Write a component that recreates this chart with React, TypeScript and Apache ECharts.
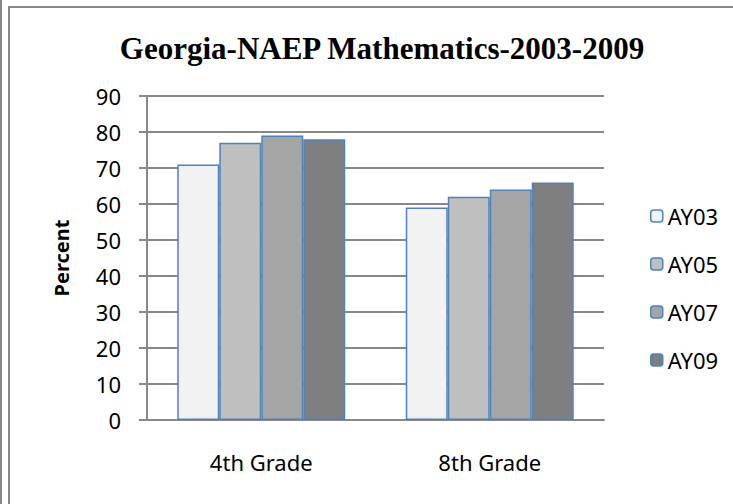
import React, { useEffect, useRef } from "react";
import * as echarts from "echarts";

const categories = ["4th Grade", "8th Grade"];
const seriesNames = ["AY03", "AY05", "AY07", "AY09"];
const ay03 = [71, 59];
const ay05 = [77, 62];
const ay07 = [79, 64];
const ay09 = [78, 66];
const seriesValues = [ay03, ay05, ay07, ay09];
const seriesColors = ["#F2F2F2", "#BFBFBF", "#A5A5A5", "#7F7F7F"];

export default function App() {
  const ref = useRef<HTMLDivElement>(null);
  useEffect(() => {
    if (!ref.current) return;
    const chart = echarts.init(ref.current, null, { renderer: "svg" });
    const gray = "#888888";
    chart.setOption({
      animation: false,
      backgroundColor: "#ffffff",
      title: {
        text: "Georgia-NAEP Mathematics-2003-2009",
        left: 377,
        textAlign: "center",
        top: 28,
        textStyle: {
          fontFamily: "Liberation Serif",
          fontWeight: "bold",
          fontSize: 31,
          color: "#000",
        },
      },
      legend: {
        orient: "vertical",
        left: 645,
        top: 200,
        itemWidth: 12,
        itemHeight: 12,
        itemGap: 26,
        data: seriesNames,
        textStyle: {
          fontFamily: "Noto Sans",
          fontSize: 22,
          lineHeight: 22,
          color: "#000",
        },
        itemStyle: { borderColor: "#4F81BD", borderWidth: 1.5 },
      },
      grid: { left: 147, right: 129, top: 96, bottom: 84 },
      xAxis: {
        type: "category",
        data: categories,
        axisLine: { show: true, lineStyle: { color: gray, width: 2 } },
        axisTick: { show: false },
        axisLabel: {
          margin: 31,
          fontFamily: "Noto Sans",
          fontSize: 22,
          color: "#000",
        },
      },
      yAxis: {
        type: "value",
        min: 0,
        max: 90,
        interval: 10,
        name: "Percent",
        nameLocation: "middle",
        nameGap: 76,
        nameTextStyle: {
          fontFamily: "Noto Sans",
          fontWeight: "bold",
          fontSize: 20,
          color: "#000",
        },
        axisLine: { show: true, lineStyle: { color: gray, width: 2 } },
        axisTick: { show: true, length: 8, lineStyle: { color: gray, width: 2 } },
        splitLine: { show: true, lineStyle: { color: gray, width: 2 } },
        axisLabel: {
          margin: 26,
          fontFamily: "Noto Sans",
          fontSize: 22,
          color: "#000",
        },
      },
      series: seriesNames.map((name, i) => ({
        name,
        type: "bar",
        data: seriesValues[i],
        barGap: "0%",
        barCategoryGap: "26.5%",
        itemStyle: {
          color: seriesColors[i],
          borderColor: "#4F81BD",
          borderWidth: 1.5,
        },
      })),
      graphic: [
        { type: "rect", shape: { x: 0, y: 0, width: 2, height: 504 }, style: { fill: gray } },
        { type: "rect", shape: { x: 8, y: 6, width: 2, height: 498 }, style: { fill: gray } },
        { type: "rect", shape: { x: 8, y: 6, width: 725, height: 2 }, style: { fill: gray } },
      ],
    });
    return () => chart.dispose();
  }, []);
  return <div ref={ref} style={{ width: 733, height: 504, position: "absolute", left: 0, top: 0 }} />;
}
